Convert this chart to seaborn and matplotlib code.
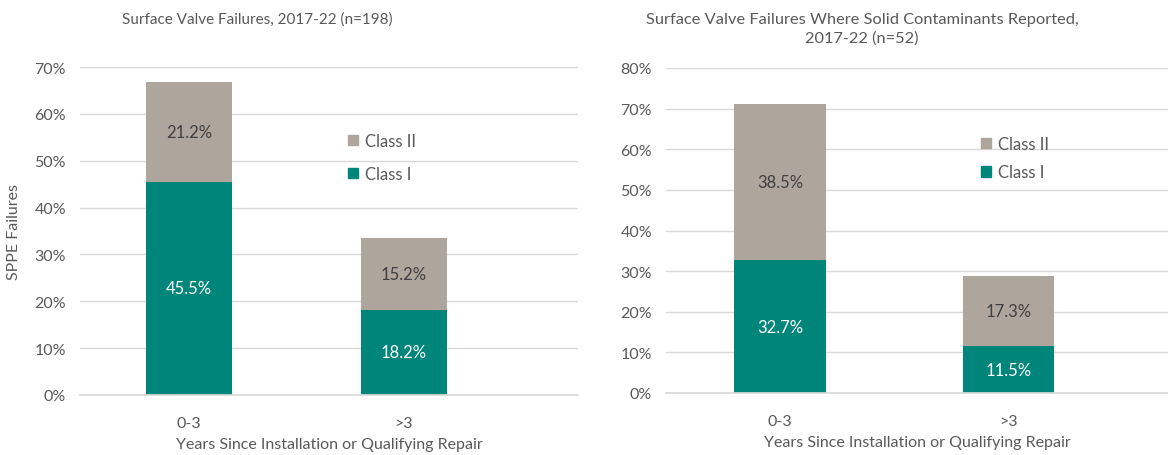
import numpy as np
import matplotlib
matplotlib.use("Agg")
import matplotlib.pyplot as plt
from matplotlib.patches import Patch
import pandas as pd
import seaborn as sb

# data
categories = ["0-3", ">3"]
all_class1 = [45.5, 18.2]
all_class2 = [21.2, 15.2]
solid_class1 = [32.7, 11.5]
solid_class2 = [38.5, 17.3]

left_title = "Surface Valve Failures, 2017-22 (n=198)"
right_title = "Surface Valve Failures Where Solid Contaminants Reported,\n2017-22 (n=52)"
x_title = "Years Since Installation or Qualifying Repair"
y_title = "SPPE Failures"

teal = "#00857a"
grey = "#aea59d"
text_col = "#595959"

sb.set_theme(style="white")
plt.rcParams['font.family'] = ['Lato', 'DejaVu Sans']


def stacked(ax, class1, class2, ymax, width, xlim):
    df = pd.DataFrame({"Years": categories, "Class I": class1, "Class II": class2})
    df["Total"] = df["Class I"] + df["Class II"]
    sb.barplot(data=df, x="Years", y="Total", color=grey, width=width,
               saturation=1, linewidth=0, ax=ax)
    sb.barplot(data=df, x="Years", y="Class I", color=teal, width=width,
               saturation=1, linewidth=0, ax=ax)
    for i, row in df.iterrows():
        ax.text(i, row["Class I"] / 2, f"{row['Class I']:.1f}%", ha="center",
                va="center", color="white", fontsize=12)
        ax.text(i, row["Class I"] + row["Class II"] / 2, f"{row['Class II']:.1f}%",
                ha="center", va="center", color="#404040", fontsize=12)
    ax.set_ylim(0, ymax)
    ax.set_xlim(*xlim)
    ax.set_yticks(np.arange(0, ymax + 1, 10))
    ax.set_yticklabels([f"{v}%" for v in range(0, ymax + 1, 10)])
    ax.yaxis.grid(True, color="#d9d9d9", linewidth=1)
    ax.set_axisbelow(True)
    for s in ax.spines.values():
        s.set_visible(False)
    ax.spines["bottom"].set_visible(True)
    ax.spines["bottom"].set_color("#d9d9d9")
    ax.tick_params(axis="both", length=0, labelsize=11.5, colors=text_col)
    ax.tick_params(axis="y", pad=10)
    ax.tick_params(axis="x", pad=15)
    ax.set_xlabel(x_title, fontsize=11.5, color=text_col, labelpad=5)
    ax.set_ylabel("")


fig = plt.figure(figsize=(11.68, 4.56), dpi=100)
ax1 = fig.add_axes([80 / 1168, 1 - 396 / 456, 498 / 1168, 328 / 456])
ax2 = fig.add_axes([666 / 1168, 1 - 394 / 456, 502 / 1168, 325 / 456])

stacked(ax1, all_class1, all_class2, 70, 0.4, (-0.507, 1.81))
stacked(ax2, solid_class1, solid_class2, 80, 0.4, (-0.50, 1.70))

ax1.set_ylabel(y_title, fontsize=11.5, color=text_col, labelpad=10)

fig.text(257 / 1168, 1 - 20 / 456, left_title, ha="center", va="center",
         fontsize=11, color=text_col)
fig.text(862 / 1168, 1 - 29 / 456, right_title, ha="center", va="center",
         fontsize=11.8, color=text_col, linespacing=1.4)

handles = [Patch(color=grey, label="Class II"), Patch(color=teal, label="Class I")]
spots = [(ax1, (348 / 1168, 1 - 134 / 456), 1.0), (ax2, (981 / 1168, 1 - 137 / 456), 0.75)]
for ax, xy, gap in spots:
    leg = ax.legend(handles=handles, loc="upper left", bbox_to_anchor=xy,
                    bbox_transform=fig.transFigure, frameon=False, fontsize=12,
                    handlelength=0.6, handleheight=0.6, handletextpad=0.4,
                    labelspacing=gap, borderaxespad=0, borderpad=0)
    for t in leg.get_texts():
        t.set_color(text_col)

fig.savefig("out.png", dpi=100)
